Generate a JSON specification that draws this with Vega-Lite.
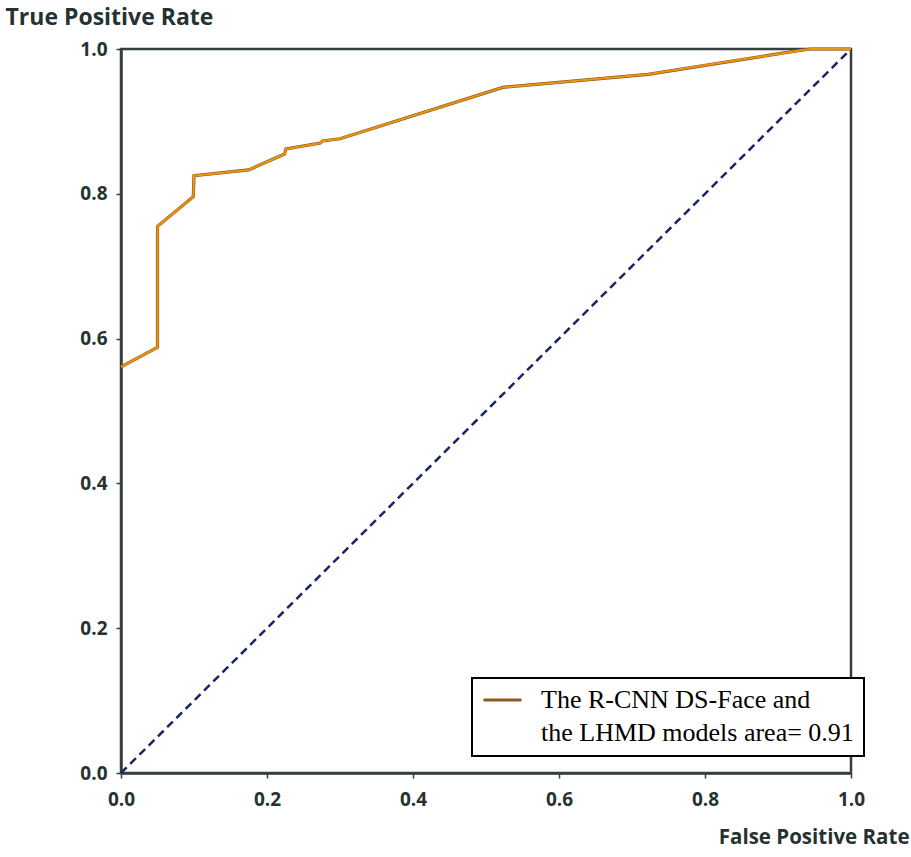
{
  "$schema": "https://vega.github.io/schema/vega-lite/v6.json",
  "width": 730,
  "height": 724,
  "autosize": {"type": "none"},
  "padding": {"left": 121, "top": 49, "right": 60, "bottom": 84},
  "background": "white",
  "config": {
    "view": {"stroke": "#34403f", "strokeWidth": 2.5},
    "legend": {"strokeWidth": 2},
    "axis": {
      "domainColor": "#34403f", "domainWidth": 2.5,
      "tickColor": "#34403f", "tickWidth": 1.5, "tickSize": 5,
      "grid": false, "labelFlush": false,
      "labelFont": "Open Sans", "labelFontWeight": "bold", "labelFontSize": 19, "labelColor": "#263232",
      "titleFont": "Open Sans", "titleFontWeight": "bold", "titleColor": "#263232"
    }
  },
  "datasets": {
    "diag": [
      {"fpr": 0, "tpr": 0},
      {"fpr": 1, "tpr": 1}
    ],
    "roc": [
      {"i": 0, "fpr": 0.0, "tpr": 0.561, "model": "roc"},
      {"i": 1, "fpr": 0.050, "tpr": 0.588, "model": "roc"},
      {"i": 2, "fpr": 0.050, "tpr": 0.755, "model": "roc"},
      {"i": 3, "fpr": 0.099, "tpr": 0.796, "model": "roc"},
      {"i": 4, "fpr": 0.100, "tpr": 0.825, "model": "roc"},
      {"i": 5, "fpr": 0.175, "tpr": 0.833, "model": "roc"},
      {"i": 6, "fpr": 0.224, "tpr": 0.855, "model": "roc"},
      {"i": 7, "fpr": 0.226, "tpr": 0.862, "model": "roc"},
      {"i": 8, "fpr": 0.273, "tpr": 0.870, "model": "roc"},
      {"i": 9, "fpr": 0.276, "tpr": 0.873, "model": "roc"},
      {"i": 10, "fpr": 0.300, "tpr": 0.876, "model": "roc"},
      {"i": 11, "fpr": 0.523, "tpr": 0.947, "model": "roc"},
      {"i": 12, "fpr": 0.722, "tpr": 0.965, "model": "roc"},
      {"i": 13, "fpr": 0.930, "tpr": 0.998, "model": "roc"},
      {"i": 14, "fpr": 0.945, "tpr": 1.0, "model": "roc"},
      {"i": 15, "fpr": 1.0, "tpr": 1.0, "model": "roc"}
    ]
  },
  "layer": [
    {
      "data": {"name": "diag"},
      "mark": {"type": "line", "color": "#1b2366", "strokeWidth": 2.5, "strokeDash": [8, 5]},
      "encoding": {
        "x": {"field": "fpr", "type": "quantitative"},
        "y": {"field": "tpr", "type": "quantitative"}
      }
    },
    {
      "data": {"name": "roc"},
      "mark": {"type": "line", "strokeWidth": 3.2},
      "encoding": {
        "x": {
          "field": "fpr", "type": "quantitative",
          "scale": {"domain": [0, 1], "nice": false},
          "axis": {
            "values": [0, 0.2, 0.4, 0.6, 0.8, 1.0], "format": ".1f",
            "labelPadding": 12,
            "title": "False Positive Rate", "titleFontSize": 20.5,
            "titleX": 788, "titleY": 64, "titleAlign": "right", "titleBaseline": "middle"
          }
        },
        "y": {
          "field": "tpr", "type": "quantitative",
          "scale": {"domain": [0, 1], "nice": false},
          "axis": {
            "values": [0, 0.2, 0.4, 0.6, 0.8, 1.0], "format": ".1f",
            "labelPadding": 9,
            "title": "True Positive Rate", "titleFontSize": 23,
            "titleAngle": 0, "titleX": -116, "titleY": -32, "titleAlign": "left", "titleBaseline": "middle"
          }
        },
        "order": {"field": "i", "type": "quantitative"},
        "color": {
          "field": "model", "type": "nominal",
          "scale": {"range": ["#8b5a1e"]},
          "legend": {
            "title": null,
            "orient": "none", "legendX": 351, "legendY": 629,
            "strokeColor": "black", "fillColor": "white",
            "padding": 10,
            "labelFont": "Liberation Serif", "labelFontSize": 26, "labelColor": "black",
            "labelLimit": 0, "labelOffset": 18,
            "symbolType": "stroke", "symbolSize": 1444, "symbolStrokeWidth": 3,
            "labelExpr": "['The R-CNN DS-Face and', 'the LHMD models area= 0.91']",
            "encode": {
              "legend": {"update": {"height": {"value": 92}, "width": {"value": 378}}},
              "labels": {"update": {"lineHeight": {"value": 33}, "dy": {"value": -9}}},
              "symbols": {"update": {"y": {"value": 12}}}
            }
          }
        }
      }
    },
    {
      "data": {"name": "roc"},
      "mark": {"type": "line", "strokeWidth": 2, "color": "#ee9412"},
      "encoding": {
        "x": {"field": "fpr", "type": "quantitative"},
        "y": {"field": "tpr", "type": "quantitative"},
        "order": {"field": "i", "type": "quantitative"}
      }
    }
  ]
}
